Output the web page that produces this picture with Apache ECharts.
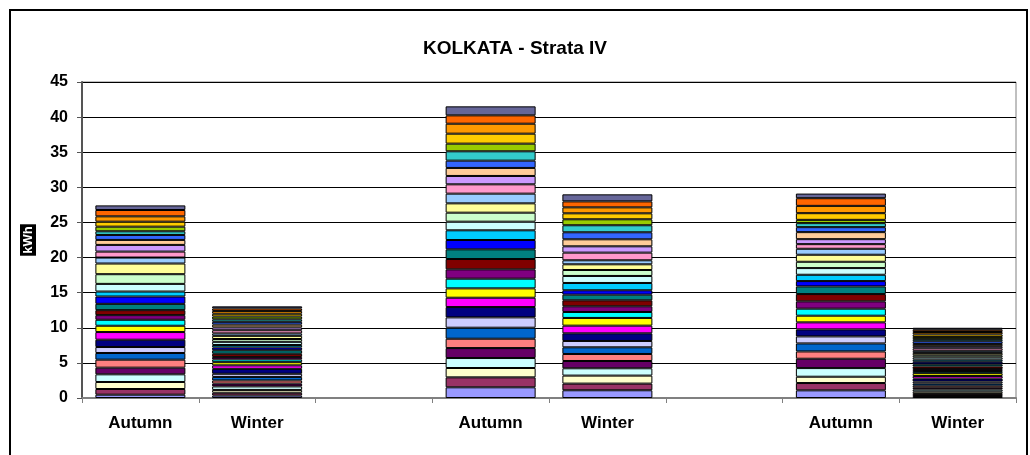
<!DOCTYPE html>
<html>
<head>
<meta charset="utf-8">
<script src="https://cdn.jsdelivr.net/npm/echarts@6/dist/echarts.min.js"></script>
<style>
  html, body { margin: 0; padding: 0; background: #fff; }
  #chart { width: 1030px; height: 455px; }
</style>
</head>
<body>
<div id="chart"></div>
<script>
// Season groups; empty slots separate the three groups
const categories = ['Autumn', 'Winter', '', 'Autumn', 'Winter', '', 'Autumn', 'Winter'];

// Stacked components of each bar, bottom to top (kWh)
const autumnA = [0.47, 0.81, 1.0, 1.09, 0.95, 1.14, 0.95, 0.85, 1.04, 1.09, 0.9, 0.85, 0.66, 0.71, 0.9, 1.04,
                 0.71, 1.09, 1.38, 1.52, 0.85, 0.85, 0.95, 0.71, 0.71, 0.52, 0.66, 0.71, 0.76, 0.9, 0.66];
const winterA = [0.35, 0.4, 0.4, 0.5, 0.4, 0.45, 0.5, 0.45, 0.7, 0.5, 0.45, 0.4, 0.35, 0.45, 0.5, 0.4,
                 0.35, 0.45, 0.4, 0.45, 0.35, 0.45, 0.4, 0.4, 0.4, 0.35, 0.4, 0.4, 0.4, 0.35, 0.3];
const autumnB = [1.52, 1.42, 1.33, 1.42, 1.42, 1.33, 1.57, 1.47, 1.47, 1.33, 1.33, 1.38, 1.33, 1.47, 1.38, 1.33,
                 1.38, 1.23, 1.28, 1.33, 1.38, 1.33, 1.19, 1.14, 1.04, 1.33, 1.09, 1.42, 1.42, 1.19, 1.28];
const winterB = [1.1, 0.95, 1.14, 1.04, 1.04, 1.0, 0.95, 0.9, 1.09, 1.09, 1.1, 0.85, 0.81, 0.85, 0.81, 0.62,
                 1.04, 1.0, 0.85, 0.81, 0.57, 1.09, 0.9, 1.0, 1.0, 1.0, 0.85, 0.85, 0.85, 0.85, 1.0];
const autumnC = [1.09, 1.04, 0.9, 1.23, 1.33, 1.04, 1.14, 1.0, 1.0, 1.0, 0.95, 1.0, 1.04, 1.04, 1.09, 0.76,
                 0.9, 0.95, 0.9, 1.0, 0.85, 0.66, 0.71, 1.0, 0.71, 0.57, 0.47, 0.95, 1.04, 1.09, 0.66];
const winterC = [0.28, 0.3, 0.32, 0.3, 0.26, 0.3, 0.3, 0.28, 0.42, 0.38, 0.4, 0.3, 0.28, 0.36, 0.32, 0.36,
                 0.3, 0.32, 0.3, 0.34, 0.3, 0.36, 0.3, 0.32, 0.38, 0.3, 0.32, 0.36, 0.34, 0.32, 0.28];

// Bars in category order (null = empty slot)
const bars = [autumnA, winterA, null, autumnB, winterB, null, autumnC, winterC];

// Fill colour of each stacked component
const colors = ['#9999FF', '#993366', '#FFFFCC', '#CCFFFF', '#660066', '#FF8080', '#0066CC', '#CCCCFF',
                '#000080', '#FF00FF', '#FFFF00', '#00FFFF', '#800080', '#800000', '#008080', '#0000FF',
                '#00CCFF', '#CCFFFF', '#CCFFCC', '#FFFF99', '#99CCFF', '#FF99CC', '#CC99FF', '#FFCC99',
                '#3366FF', '#33CCCC', '#99CC00', '#FFCC00', '#FF9900', '#FF6600', '#666699'];

const yTicks = { min: 0, max: 45, interval: 5 };

const FONT = "'Liberation Sans', Arial, sans-serif";

const series = colors.map((c, i) => ({
  type: 'bar',
  stack: 'total',
  barWidth: 90,
  data: bars.map(b => (b ? b[i] : '-')),
  itemStyle: { color: c, borderColor: '#000', borderWidth: 1 },
  emphasis: { disabled: true },
  animation: false
}));

const chart = echarts.init(document.getElementById('chart'), null, { renderer: 'canvas' });
chart.setOption({
  backgroundColor: '#fff',
  animation: false,
  title: {
    text: 'KOLKATA - Strata IV',
    left: 'center',
    top: 34,
    textStyle: { fontFamily: FONT, fontSize: 19, fontWeight: 'bold', color: '#000' }
  },
  graphic: [{
    type: 'rect',
    shape: { x: 10, y: 10, width: 1017, height: 470 },
    style: { fill: 'none', stroke: '#000', lineWidth: 2 },
    silent: true
  }],
  grid: {
    left: 82, right: 14, top: 82, bottom: 57,
    show: true, borderColor: '#808080', borderWidth: 1, backgroundColor: '#fff'
  },
  xAxis: {
    type: 'category',
    data: categories,
    axisLine: { lineStyle: { color: '#808080', width: 2 } },
    axisTick: { show: true, length: 5, lineStyle: { color: '#808080' } },
    axisLabel: { fontFamily: FONT, fontSize: 17, fontWeight: 'bold', color: '#000', margin: 17, interval: 0 }
  },
  yAxis: {
    type: 'value',
    min: yTicks.min, max: yTicks.max, interval: yTicks.interval,
    name: 'kWh',
    nameLocation: 'middle',
    nameRotate: 90,
    nameGap: 46,
    nameTextStyle: {
      fontFamily: FONT, fontSize: 13, fontWeight: 'bold', color: '#fff',
      backgroundColor: '#000', padding: [2, 2, 1, 2]
    },
    axisLine: { show: true, lineStyle: { color: '#555', width: 2 } },
    axisTick: { show: true, length: 5, lineStyle: { color: '#555' } },
    axisLabel: { fontFamily: FONT, fontSize: 16, fontWeight: 'bold', color: '#000', margin: 14 },
    splitLine: { lineStyle: { color: '#000', width: 1 } }
  },
  series: series
});
</script>
</body>
</html>
